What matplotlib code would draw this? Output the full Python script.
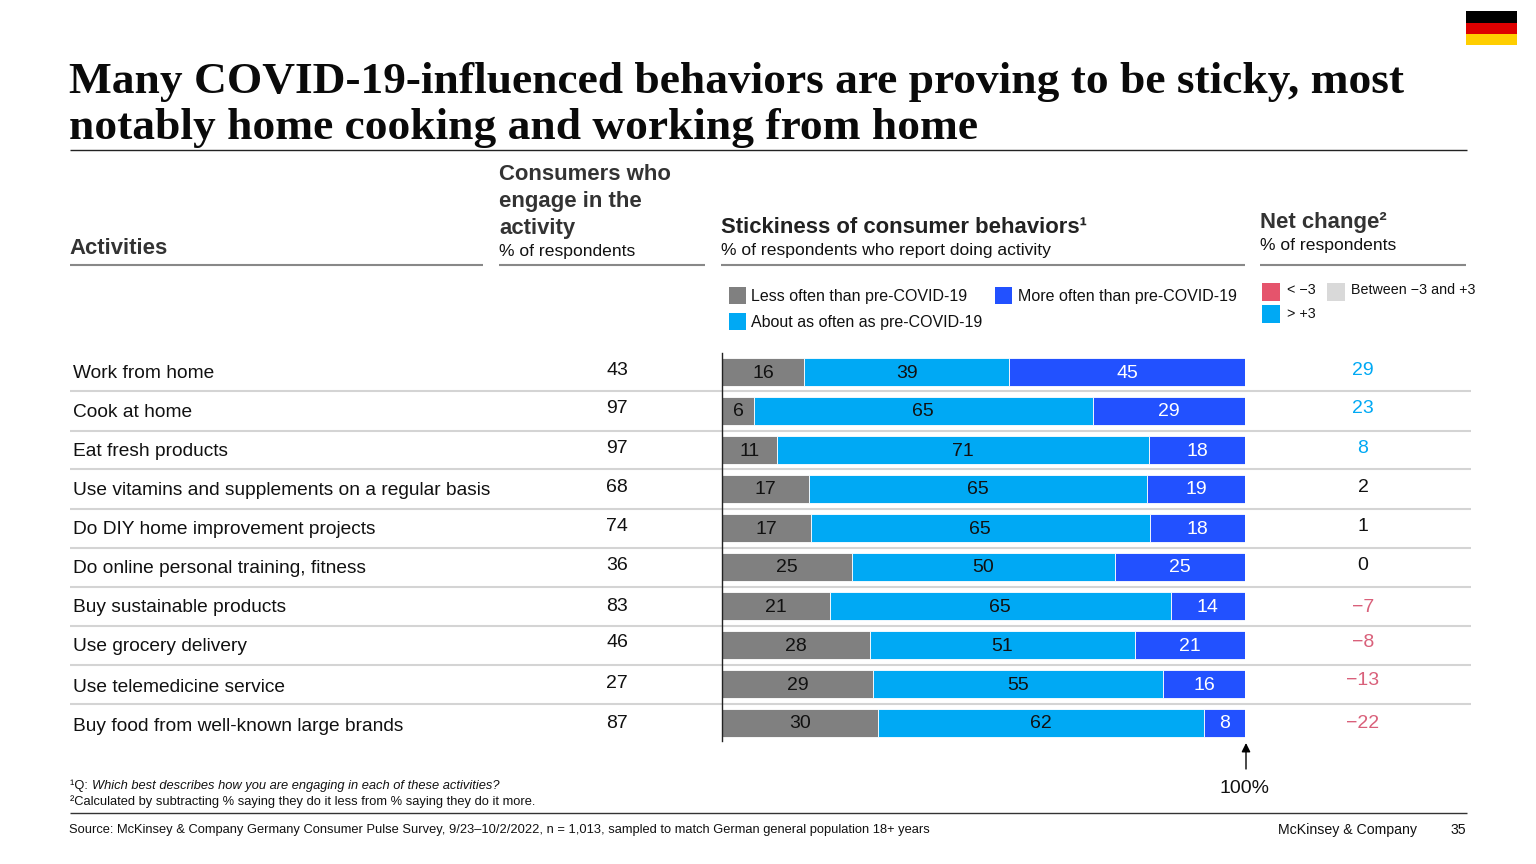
import matplotlib
matplotlib.use("Agg")
import matplotlib.pyplot as plt

plt.rcParams['font.family'] = ['Liberation Sans', 'DejaVu Sans']

# Data
activities = ["Work from home", "Cook at home", "Eat fresh products",
              "Use vitamins and supplements on a regular basis",
              "Do DIY home improvement projects", "Do online personal training, fitness",
              "Buy sustainable products", "Use grocery delivery",
              "Use telemedicine service", "Buy food from well-known large brands"]
engaged = [43, 97, 97, 68, 74, 36, 83, 46, 27, 87]
less_often = [15.7, 6.1, 10.6, 16.6, 17.0, 24.9, 20.6, 28.3, 28.9, 29.8]
about_same = [39.2, 64.8, 71.0, 64.7, 64.8, 50.2, 65.2, 50.7, 55.4, 62.4]
more_often = [45.1, 29.1, 18.4, 18.7, 18.2, 24.9, 14.2, 21.0, 15.7, 7.8]
net_change = [29, 23, 8, 2, 1, 0, -7, -8, -13, -22]

# Layout, in reference pixels
bar_y = [371.5, 410.5, 449.5, 488.5, 527.5, 566.5, 605.5, 645, 683.5, 722.5]
label_y = [372, 411, 450, 489, 528, 567, 606, 645, 686, 725]
engaged_y = [369, 407, 447, 486, 525, 564, 605, 641, 682, 722]
net_y = [369, 407, 447, 486, 525, 564, 606, 641, 679, 722]
sep_y = [391, 431, 469, 509, 548, 587, 626, 665, 704]

GREY = "#808080"
CYAN = "#00A9F4"
BLUE = "#2251FF"
PINK = "#E5546C"
PINK_TEXT = "#D9607A"
LIGHT = "#D9D9D9"
TEXT = "#111111"
W, H = 1536, 864


def pt(px):
    return px * 0.72


fig = plt.figure(figsize=(15.36, 8.64), dpi=100)
bg = fig.add_axes([0, 0, 1, 1])
bg.set_xlim(0, W)
bg.set_ylim(H, 0)
bg.axis("off")


def txt(x, y, s, size=18, **kw):
    kw.setdefault("color", TEXT)
    kw.setdefault("va", "center")
    return bg.text(x, y + 1.5, s, fontsize=pt(size), **kw)


def rule(x0, x1, y, color, lw):
    bg.plot([x0, x1], [y, y], color=color, lw=lw, solid_capstyle="butt")


def swatch(x, y, w, h, color):
    bg.add_patch(plt.Rectangle((x, y), w, h, color=color, lw=0))


# Flag
swatch(1466, 11, 51, 11.5, "#000000")
swatch(1466, 22.5, 51, 11, "#DD0000")
swatch(1466, 33.5, 51, 11, "#FFCE00")

# Title
title_font = dict(family="Liberation Serif", weight="bold", size=45.4, color="#0A0A0A")
txt(69, 80.5, "Many COVID-19-influenced behaviors are proving to be sticky, most", **title_font)
txt(69, 126.5, "notably home cooking and working from home", **title_font)
rule(70, 1467, 150, "#222222", 1)

# Column headers
txt(69.5, 247, "Activities", size=22.2, weight="bold", color="#333333")
rule(70, 483, 264.5, "#888888", 1.5)
for y, s in zip([173, 200, 227], ["Consumers who", "engage in the", "activity"]):
    txt(499, y, s, size=22.2, weight="bold", color="#333333")
txt(499, 250, "% of respondents", size=17.5)
rule(499, 705, 264.5, "#888888", 1.5)
txt(721, 226, "Stickiness of consumer behaviors¹", size=22.2, weight="bold", color="#222222")
txt(721, 249, "% of respondents who report doing activity", size=17.5)
rule(721, 1245, 264.5, "#888888", 1.5)
txt(1260, 221, "Net change²", size=22.2, weight="bold", color="#333333")
txt(1260, 244, "% of respondents", size=17.5)
rule(1260, 1466, 264.5, "#888888", 1.5)

# Legends
swatch(729, 286.5, 17, 17, GREY)
txt(751, 295, "Less often than pre-COVID-19", size=16)
swatch(995, 286.5, 17, 17, BLUE)
txt(1018, 295, "More often than pre-COVID-19", size=16)
swatch(729, 312.5, 17, 17, CYAN)
txt(751, 321, "About as often as pre-COVID-19", size=16)
swatch(1262, 283, 18, 18, PINK)
txt(1287, 289, "< −3", size=14.3)
swatch(1327, 283, 18, 18, LIGHT)
txt(1351, 289, "Between −3 and +3", size=14.3)
swatch(1262, 305, 18, 18, CYAN)
txt(1287, 313, "> +3", size=14.3)

# Rows
for y in sep_y:
    rule(70, 1471, y, "#D4D4D4", 1.5)
for name, y in zip(activities, label_y):
    txt(73, y, name, size=19.1)
for val, y in zip(engaged, engaged_y):
    txt(617, y, str(val), size=19.5, ha="center")
for val, y in zip(net_change, net_y):
    if val > 3:
        col = CYAN
    elif val < -3:
        col = PINK_TEXT
    else:
        col = TEXT
    s = str(val).replace("-", "−")
    txt(1363, y, s, size=19.5, ha="center", color=col)

# Bars
ax = fig.add_axes([722 / W, 1 - 741 / H, 523 / W, (741 - 353) / H], zorder=2)
ax.patch.set_alpha(0)
ax.set_xlim(0, 100)
ax.set_ylim(741, 353)
for s in ["top", "right", "bottom"]:
    ax.spines[s].set_visible(False)
ax.spines["left"].set_linewidth(1)
ax.spines["left"].set_color("#222222")
ax.set_xticks([])
ax.set_yticks([])

left = [0] * len(bar_y)
for vals, col, tcol in [(less_often, GREY, "#111111"),
                        (about_same, CYAN, "#111111"),
                        (more_often, BLUE, "white")]:
    ax.barh(bar_y, vals, left=left, height=28, color=col, edgecolor="white", linewidth=0.6)
    for y, l, v in zip(bar_y, left, vals):
        ax.text(l + v / 2, y + 1.5, str(round(v)), ha="center", va="center",
                fontsize=pt(19.5), color=tcol)
    left = [l + v for l, v in zip(left, vals)]

# 100% marker
bg.annotate("", xy=(1246, 743), xytext=(1246, 769),
            arrowprops=dict(arrowstyle="-|>", color="black", lw=1, mutation_scale=13,
                            shrinkA=0, shrinkB=0))
txt(1244.5, 787, "100%", size=19.5, ha="center")

# Footnotes
txt(70, 784, "¹Q: ", size=12.85)
txt(92, 784, "Which best describes how you are engaging in each of these activities?", size=12.85, style="italic")
txt(70, 800, "²Calculated by subtracting % saying they do it less from % saying they do it more.", size=12.85)
rule(70, 1467, 813, "#333333", 1)
txt(69, 828, "Source: McKinsey & Company Germany Consumer Pulse Survey, 9/23–10/2/2022, n = 1,013, sampled to match German general population 18+ years", size=12.87)
txt(1278, 828.5, "McKinsey & Company", size=14.15)
txt(1466, 828.5, "35", size=14.15, ha="right")

fig.savefig("out.png", dpi=100)
